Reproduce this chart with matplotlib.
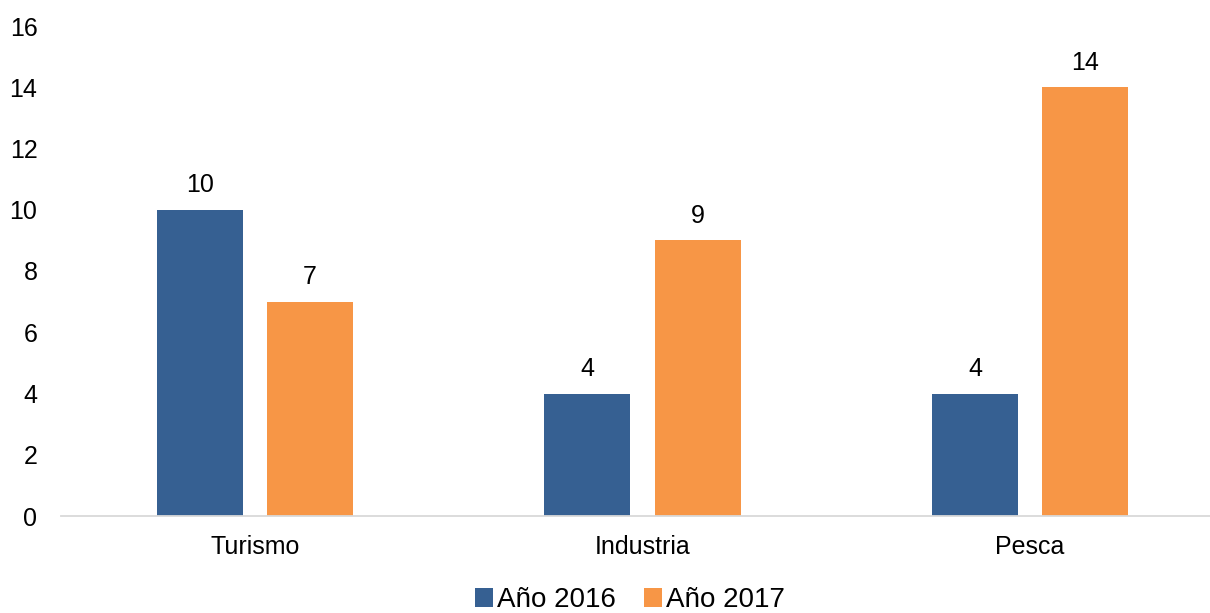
import matplotlib.pyplot as plt
import numpy as np

plt.rcParams['font.family'] = ['Liberation Sans', 'DejaVu Sans']

categories = ['Turismo', 'Industria', 'Pesca']
anio_2016 = [10, 4, 4]
anio_2017 = [7, 9, 14]

blue = '#366092'
orange = '#F79646'

fig = plt.figure(figsize=(12.1, 6.13), dpi=100)
ax = fig.add_axes([61 / 1210, 97 / 613, 1163 / 1210, 490 / 613])

x = np.arange(len(categories))
w = 0.222
b1 = ax.bar(x - 0.142, anio_2016, w, color=blue, label='Año 2016')
b2 = ax.bar(x + 0.142, anio_2017, w, color=orange, label='Año 2017')

for bars in (b1, b2):
    for r in bars:
        ax.annotate(str(int(r.get_height())), (r.get_x() + r.get_width() / 2, r.get_height()),
                    xytext=(0, 9), textcoords='offset points', ha='center', va='bottom', fontsize=18)

ax.set_xlim(-0.5, 2.5)
ax.set_ylim(0, 16)
ax.set_yticks(range(0, 17, 2))
ax.set_xticks(x)
ax.set_xticklabels(categories)
ax.tick_params(axis='both', length=0, labelsize=18)
ax.tick_params(axis='y', pad=17)
ax.tick_params(axis='x', pad=14)

for s in ['top', 'right', 'left']:
    ax.spines[s].set_visible(False)
ax.spines['bottom'].set_color('#D9D9D9')
ax.spines['bottom'].set_linewidth(1.3)

fig.legend(loc='center', bbox_to_anchor=(630 / 1210, 13 / 613), bbox_transform=fig.transFigure,
           ncol=2, frameon=False, fontsize=20, handlelength=0.65, handleheight=0.65,
           handletextpad=0.15, columnspacing=1.0)

fig.savefig('out.png', dpi=100)
